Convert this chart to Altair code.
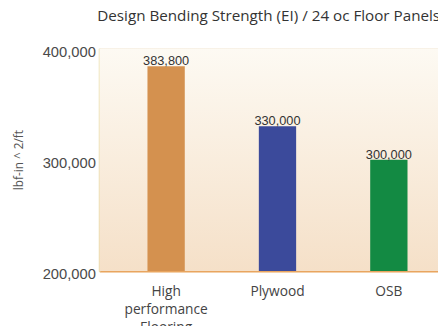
import altair as alt
import pandas as pd

categories = ["High performance Flooring", "Plywood", "OSB"]
values = [383800, 330000, 300000]
value_labels = ["383,800", "330,000", "300,000"]
colors = ["#D4914F", "#3B4A9B", "#138A43"]
y_ticks = [200000, 300000, 400000]

df = pd.DataFrame({"cat": categories, "val": values, "lab": value_labels})
bg = pd.DataFrame({"lo": [200000], "hi": [400000]})

W, H = 345, 227

xscale = alt.Scale(domain=categories, paddingInner=0.66, paddingOuter=0.43, range=[0, 363])
yscale = alt.Scale(domain=[200000, 400000], nice=False)

xaxis = alt.Axis(title=None, labelAngle=0, tickSize=0, labelPadding=14,
                 labelExpr="split(datum.label, ' ')", labelFontSize=14,
                 labelLineHeight=18.5, labelColor="#444444", labelFont="Open Sans",
                 domainColor="#E9A55F", domainWidth=2, grid=False)
yaxis = alt.Axis(title="lbf-in ^ 2/ft", values=y_ticks,
                 labelExpr="format(datum.value, ',')",
                 tickSize=0, labelPadding=4, labelFontSize=15, labelOffset=3,
                 labelColor="#4a4a4a", labelFont="Liberation Sans",
                 titleFont="Open Sans", titleFontSize=12, titleFontWeight="normal",
                 titleColor="#555555", titlePadding=17,
                 domainColor="#E2D48E", domainWidth=2,
                 grid=True, gridColor="#EBD5B8", gridWidth=1)

background = alt.Chart(bg).mark_rect(
    fill=alt.Gradient(
        gradient="linear",
        stops=[alt.GradientStop(color="#FDFAF3", offset=0),
               alt.GradientStop(color="#F5E0C8", offset=1)],
        x1=0, x2=0, y1=0, y2=1,
    )
).encode(
    x=alt.value(0), x2=alt.value(W),
    y=alt.Y("hi:Q", scale=yscale, axis=yaxis),
    y2="lo:Q",
)

bars = alt.Chart(df).mark_bar(size=38).encode(
    x=alt.X("cat:N", scale=xscale, sort=categories, axis=xaxis),
    y=alt.Y("val:Q", scale=yscale, axis=yaxis),
    y2=alt.datum(200000),
    color=alt.Color("cat:N", scale=alt.Scale(domain=categories, range=colors), legend=None),
)

text = alt.Chart(df).mark_text(baseline="bottom", dy=2, fontSize=13, color="#333333",
                               font="Liberation Sans").encode(
    x=alt.X("cat:N", scale=xscale, sort=categories, axis=xaxis),
    y=alt.Y("val:Q", scale=yscale, axis=yaxis),
    text="lab:N",
)

chart = alt.layer(background, bars, text).properties(
    width=W, height=H,
    title=alt.TitleParams("Design Bending Strength (EI) / 24 oc Floor Panels",
                          font="Open Sans", fontSize=15.5, fontWeight="normal",
                          color="#333333", offset=20, anchor="middle"),
    autosize=alt.AutoSizeParams(type="none"),
    padding={"left": 93, "top": 38, "right": 0, "bottom": 53},
).configure_view(stroke=None).configure(background="white")

chart.save("out.html", embed_options={"renderer": "svg", "actions": False})
